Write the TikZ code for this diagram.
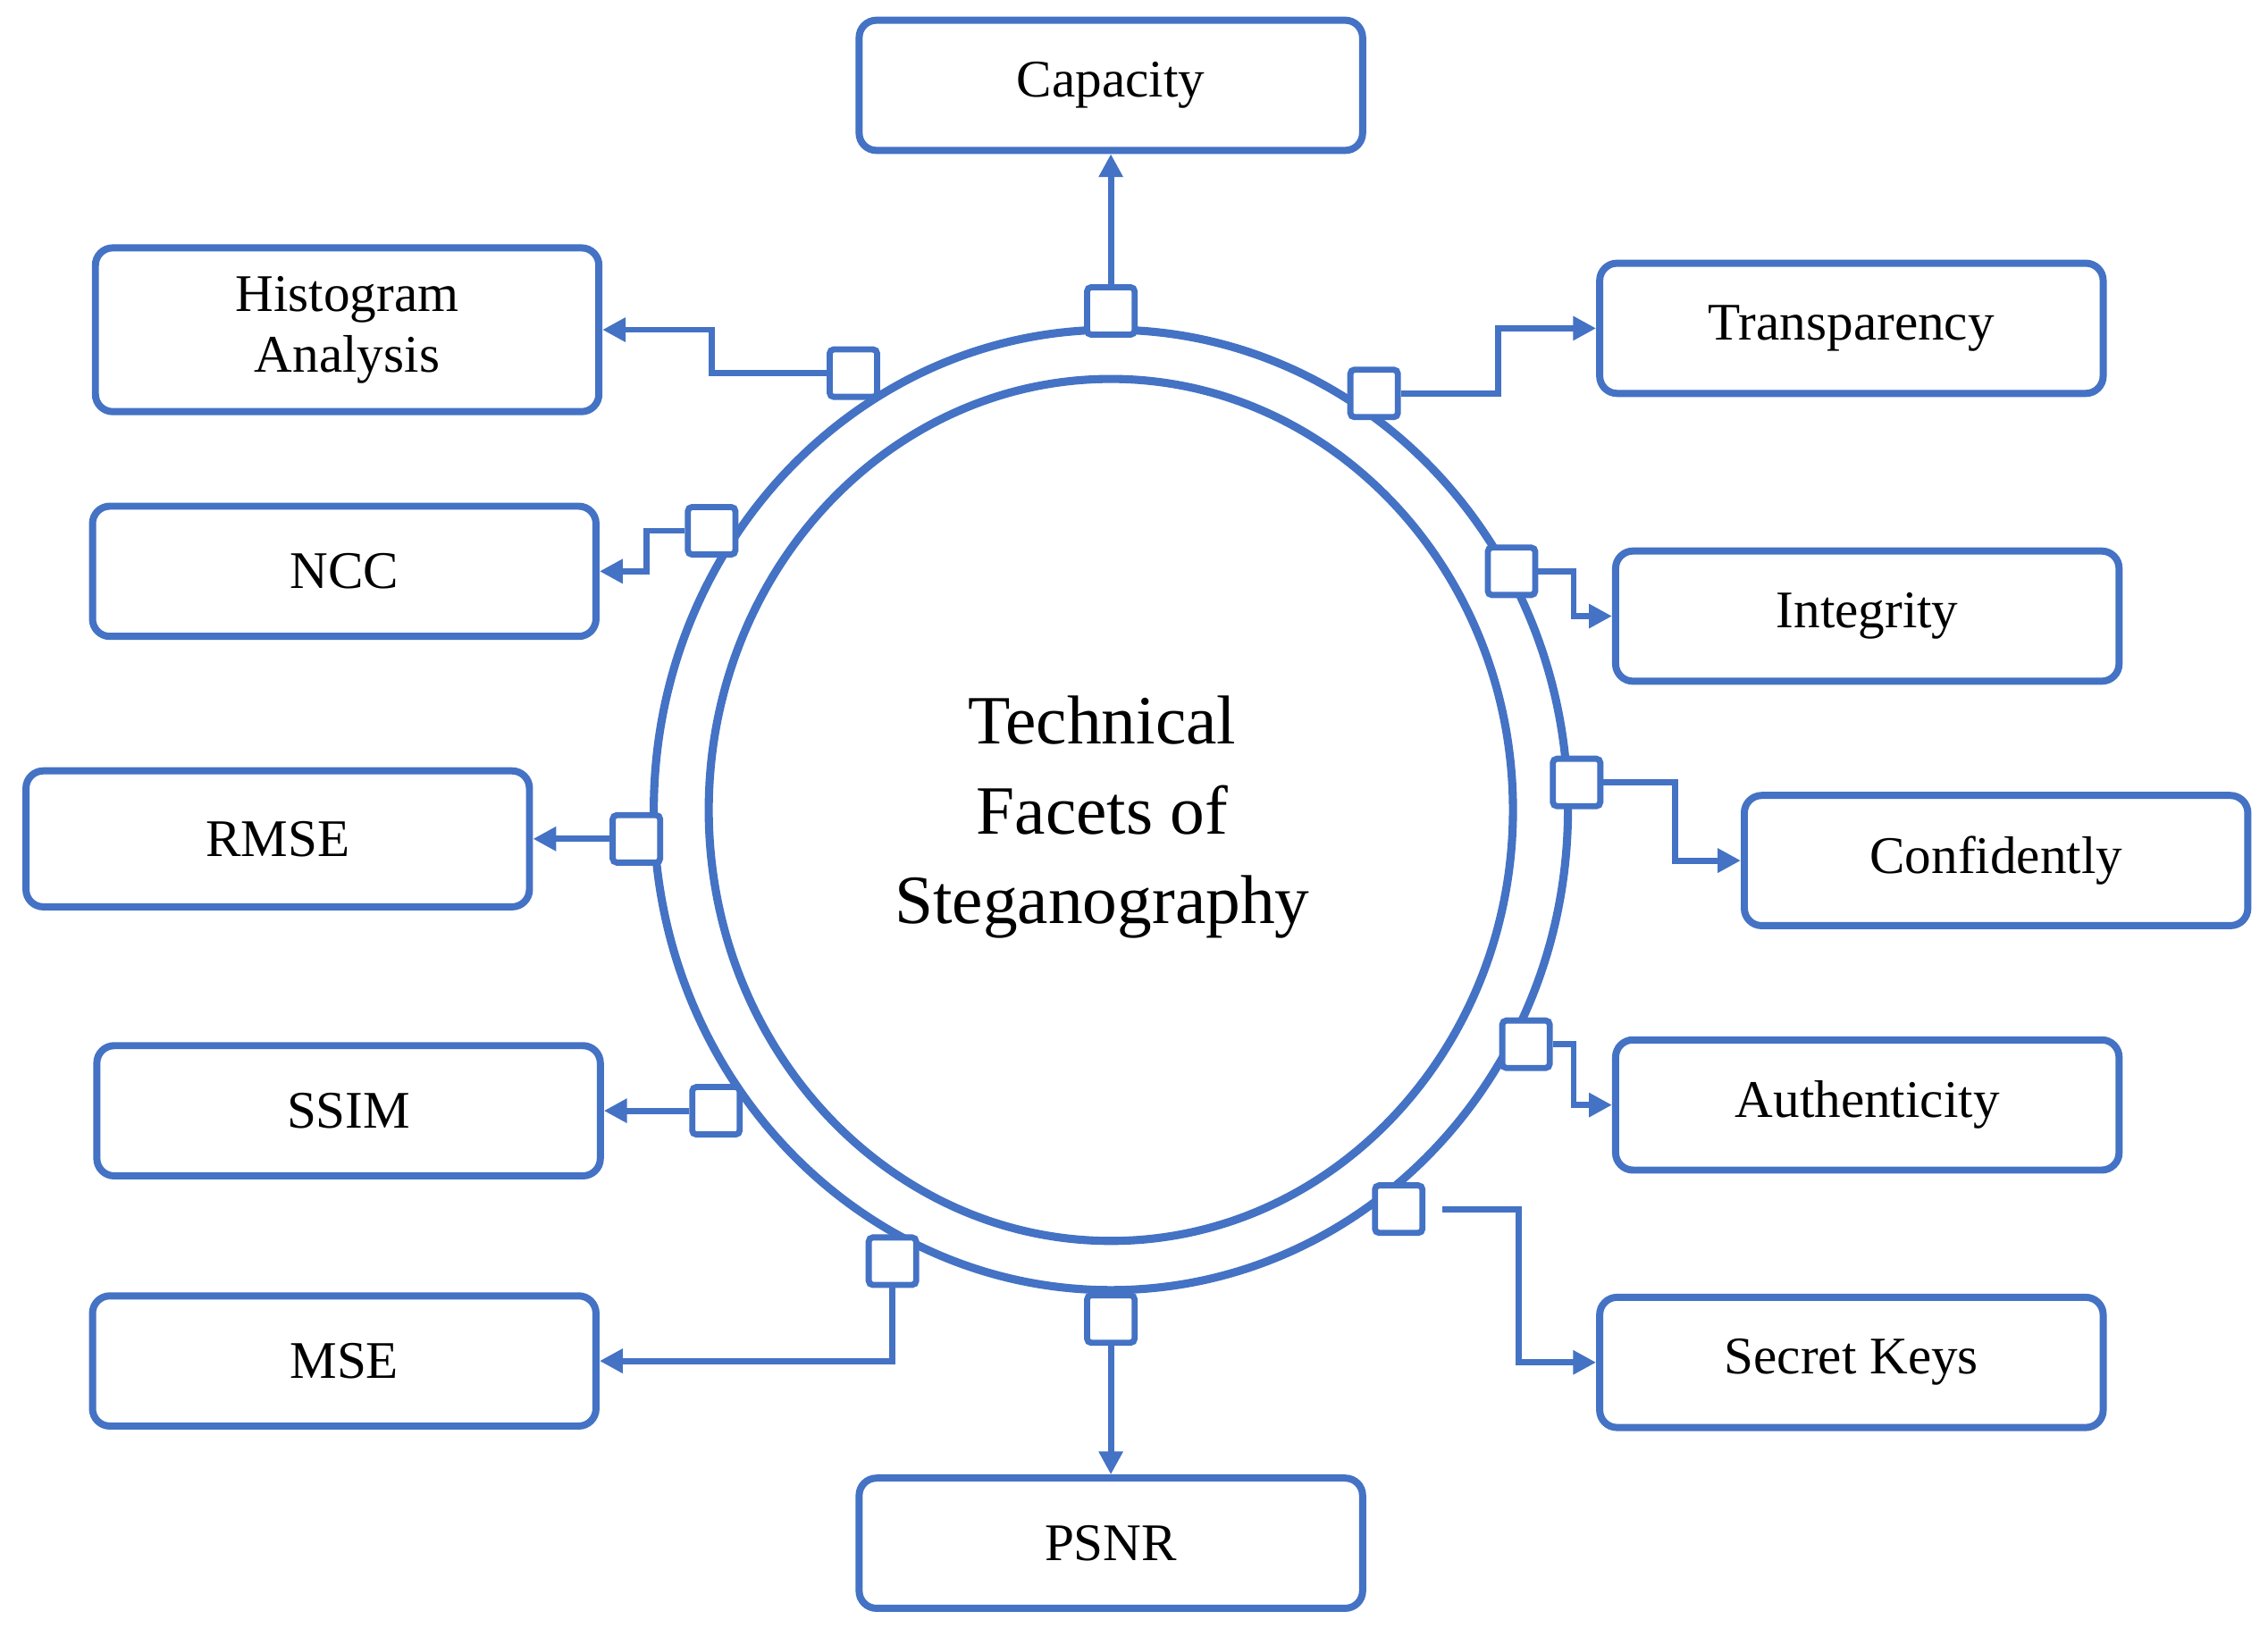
\documentclass[tikz,border=0pt]{standalone}
\usepackage{fontspec}
\setmainfont{Liberation Serif}
\usetikzlibrary{arrows.meta}
\definecolor{sb}{HTML}{4472C4}
\begin{document}
\begin{tikzpicture}[x=0.025cm,y=-0.025cm,
 box/.style={draw=sb,line width=3.5pt,rounded corners=0.3cm,minimum width=8.7cm,minimum height=2.25cm,font=\fontsize{26}{30}\selectfont,align=center,inner sep=0pt},
 sq/.style={draw=sb,line width=3pt,fill=white,rounded corners=2pt,minimum size=0.82cm,inner sep=0pt},
 con/.style={draw=sb,line width=3pt,-{Triangle[length=0.4cm,width=0.4cm]}}]
\useasboundingbox (0,0) rectangle (1568,1137);
\draw[sb,line width=4pt] (768,560) ellipse [x radius=316*0.025cm,y radius=332*0.025cm];
\draw[sb,line width=4pt] (768,560) ellipse [x radius=278*0.025cm,y radius=298*0.025cm];
\node[font=\fontsize{34}{44}\selectfont,align=center] (c) at (762,565) {Technical\\Facets of\\Steganography};
\node[box] (cap) at (768,59) {Capacity};
\node[box,minimum height=2.83cm] (his) at (240,228) {Histogram\\Analysis};
\node[box] (ncc) at (238,395) {NCC};
\node[box,minimum height=2.35cm] (rmse) at (192,580) {RMSE};
\node[box] (ssim) at (241,768) {SSIM};
\node[box] (mse) at (238,941) {MSE};
\node[box] (psnr) at (768,1067) {PSNR};
\node[box] (tra) at (1280,227) {Transparency};
\node[box] (int) at (1291,426) {Integrity};
\node[box] (con) at (1380,595) {Confidently};
\node[box] (aut) at (1291,764) {Authenticity};
\node[box] (sec) at (1280,942) {Secret Keys};
\node[sq] (s1) at (768,215) {};
\node[sq] (s2) at (590,258) {};
\node[sq] (s3) at (492,367) {};
\node[sq] (s4) at (440,580) {};
\node[sq] (s5) at (495,768) {};
\node[sq] (s6) at (617,872) {};
\node[sq] (s7) at (768,912) {};
\node[sq] (s8) at (950,272) {};
\node[sq] (s9) at (1045,395) {};
\node[sq] (s10) at (1090,541) {};
\node[sq] (s11) at (1055,722) {};
\node[sq] (s12) at (967,836) {};
\coordinate (k12) at (997,836);
\draw[con] (s1.north) -- (cap.south);
\draw[con] (s2.west) -- (492,258) |- (his.east);
\draw[con] (s3.west) -- (447,367) |- (ncc.east);
\draw[con] (s4.west) -- (rmse.east);
\draw[con] (s5.west) -- (ssim.east);
\draw[con] (s6.south) |- (mse.east);
\draw[con] (s7.south) -- (psnr.north);
\draw[con] (s8.east) -- (1036,272) |- (tra.west);
\draw[con] (s9.east) -- (1088,395) |- (int.west);
\draw[con] (s10.east) -- (1158,541) |- (con.west);
\draw[con] (s11.east) -- (1088,722) |- (aut.west);
\draw[con] (k12) -- (1050,836) |- (sec.west);
\end{tikzpicture}
\end{document}
